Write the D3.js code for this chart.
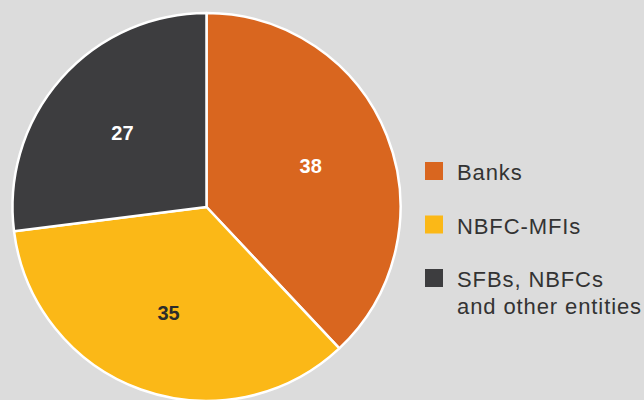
<!DOCTYPE html>
<html>
<head>
<meta charset="utf-8">
<script src="https://cdn.jsdelivr.net/npm/d3@7"></script>
<style>
  html, body { margin: 0; padding: 0; background: #dcdcdc; }
  svg { display: block; }
</style>
</head>
<body>
<svg id="chart" width="644" height="400"></svg>
<script>
const categories = ["Banks", "NBFC-MFIs", "SFBs, NBFCs and other entities"];
const values = [38, 35, 27];
const legendLines = [["Banks"], ["NBFC-MFIs"], ["SFBs, NBFCs", "and other entities"]];
const colors = ["#d9661f", "#fbb817", "#3d3d3f"];
const labelColors = ["#ffffff", "#2b2b2b", "#ffffff"];

const W = 644, H = 400;
const svg = d3.select("#chart");
svg.append("rect").attr("width", W).attr("height", H).attr("fill", "#dcdcdc");

const cx = 206.5, cy = 207, R = 194;
const pie = d3.pie().sort(null).value(d => d)(values);
const arc = d3.arc().innerRadius(0).outerRadius(R);
const labelArc = d3.arc().innerRadius(112).outerRadius(112);

const g = svg.append("g").attr("transform", `translate(${cx},${cy})`);
g.selectAll("path").data(pie).join("path")
  .attr("d", arc)
  .attr("fill", (d, i) => colors[i])
  .attr("stroke", "#ffffff")
  .attr("stroke-width", 2.5)
  .attr("stroke-linejoin", "round");

g.selectAll("text.lbl").data(pie).join("text")
  .attr("class", "lbl")
  .attr("transform", d => { const c = labelArc.centroid(d); return `translate(${c[0]},${c[1]})`; })
  .attr("text-anchor", "middle")
  .attr("dy", "0.36em")
  .attr("font-family", "Liberation Sans, Arial, sans-serif")
  .attr("font-weight", "bold")
  .attr("font-size", 20)
  .attr("fill", (d, i) => labelColors[i])
  .text(d => d.data);

// Legend
const legendY = d3.scalePoint().domain(categories).range([171, 278]);
const lg = svg.append("g");
categories.forEach((c, i) => {
  const y = legendY(c);
  lg.append("rect")
    .attr("x", 425).attr("y", y - 9)
    .attr("width", 18).attr("height", 18)
    .attr("fill", colors[i]);
  const t = lg.append("text")
    .attr("x", 457).attr("y", y + 9)
    .attr("font-family", "Liberation Sans, Arial, sans-serif")
    .attr("font-size", 22)
    .attr("letter-spacing", "0.9px")
    .attr("fill", "#333333");
  legendLines[i].forEach((line, j) => {
    t.append("tspan").attr("x", 457).attr("dy", j === 0 ? 0 : 27).text(line);
  });
});
</script>
</body>
</html>
